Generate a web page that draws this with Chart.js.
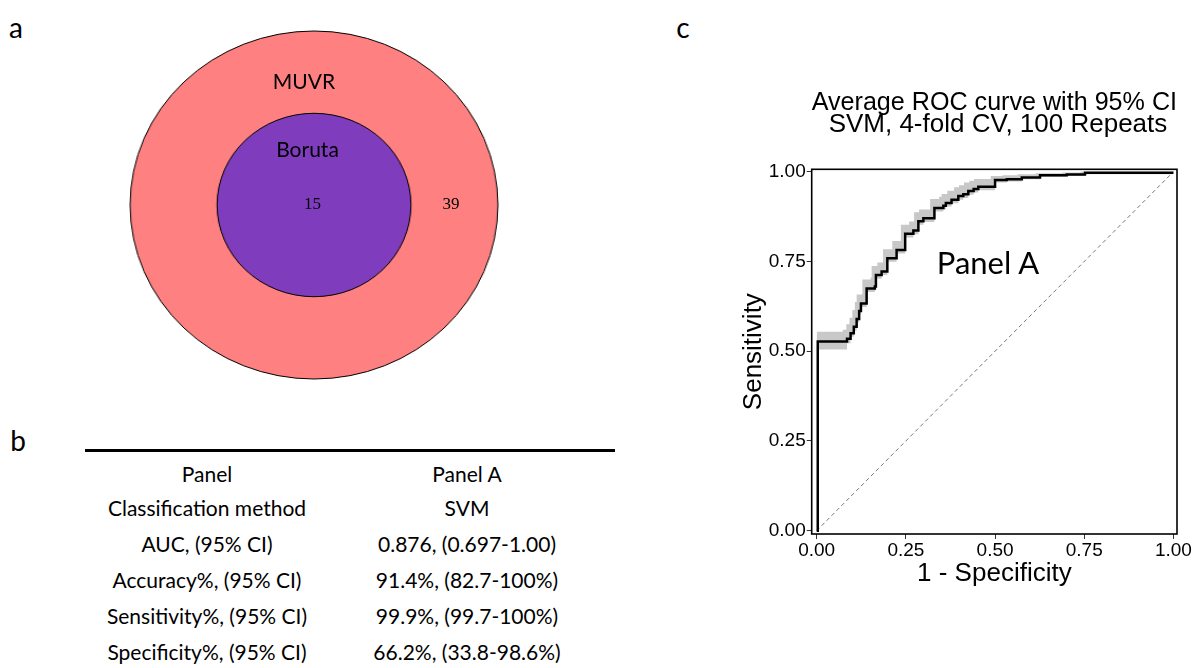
<!DOCTYPE html>
<html>
<head>
<meta charset="utf-8">
<script src="https://cdn.jsdelivr.net/npm/chart.js@4.4.1/dist/chart.umd.min.js"></script>
<style>
  html, body { margin: 0; padding: 0; background: #fff; }
  #page { position: relative; width: 1195px; height: 668px; overflow: hidden; font-family: Lato, "Open Sans", sans-serif; color: #000; }
  .t { position: absolute; white-space: nowrap; line-height: 1; transform: translate(-50%, -50%); }
  .serif { font-family: "Liberation Serif", serif; }
  #venn { position: absolute; left: 0; top: 0; width: 628px; height: 410px; transform: scaleX(1.057); transform-origin: 314px 205px; }
  #roc { position: absolute; left: 700px; top: 80px; width: 495px; height: 520px; }
  #rule { position: absolute; left: 85px; top: 449px; width: 530px; height: 3px; background: #000; }
</style>
</head>
<body>
<div id="page">
  <div class="t" style="left:16px; top:27px; font-size:28px">a</div>
  <div class="t" style="left:18px; top:440px; font-size:28px">b</div>
  <div class="t" style="left:683px; top:27px; font-size:28px">c</div>

  <div id="venn"><canvas id="vennCanvas"></canvas></div>
  <div id="vennLabels"></div>

  <div id="rule"></div>
  <div id="table"></div>

  <div id="roc"><canvas id="rocCanvas"></canvas></div>
  <div class="t" style="left:988px; top:262px; font-size:31px">Panel A</div>
</div>

<script>
// ---- panel a: Venn diagram (Boruta set nested in MUVR set)
const vennSets = ['Boruta', 'MUVR'];
const vennCounts = [15, 39];        // inside both, MUVR only

// ---- panel b: performance table
const tableHeader = ['Panel', 'Panel A'];
const tableMetrics = ['Classification method', 'AUC, (95% CI)', 'Accuracy%, (95% CI)',
                      'Sensitivity%, (95% CI)', 'Specificity%, (95% CI)'];
const tableValues = ['SVM', '0.876, (0.697-1.00)', '91.4%, (82.7-100%)',
                     '99.9%, (99.7-100%)', '66.2%, (33.8-98.6%)'];

// ---- panel c: average ROC curve with 95% CI band
const fpr = [0, 0.003, 0.085, 0.095, 0.104, 0.112, 0.119, 0.124, 0.140, 0.163, 0.166, 0.182,
             0.198, 0.224, 0.248, 0.271, 0.285, 0.299, 0.330, 0.355, 0.362, 0.378, 0.397,
             0.411, 0.425, 0.440, 0.453, 0.500, 0.533, 0.575, 0.626, 0.701, 0.752, 1.000];
const tpr = [0, 0.527, 0.535, 0.550, 0.568, 0.590, 0.612, 0.633, 0.675, 0.680, 0.712, 0.722,
             0.759, 0.782, 0.827, 0.836, 0.862, 0.870, 0.899, 0.905, 0.913, 0.922, 0.932,
             0.937, 0.946, 0.952, 0.958, 0.977, 0.979, 0.984, 0.990, 0.992, 0.997, 0.997];
// CI band: lower edge on the curve's steps, upper edge a little up and to the left
const ciLower = [0, 0.505, 0.522, 0.540, 0.558, 0.580, 0.602, 0.623, 0.665, 0.670, 0.702, 0.712,
                 0.749, 0.772, 0.817, 0.826, 0.852, 0.860, 0.889, 0.895, 0.903, 0.912, 0.922,
                 0.927, 0.936, 0.942, 0.948, 0.970, 0.973, 0.979, 0.985, 0.988, 0.993, 0.993];
const ciUpperX = [0, 0, 0.073, 0.083, 0.092, 0.100, 0.107, 0.112, 0.128, 0.151, 0.154, 0.170,
                  0.186, 0.212, 0.236, 0.259, 0.273, 0.287, 0.318, 0.343, 0.350, 0.366, 0.385,
                  0.399, 0.413, 0.428, 0.441, 0.488, 0.521, 0.563, 0.614, 0.689, 0.740, 1.000];
const ciUpper = [0, 0.554, 0.560, 0.575, 0.593, 0.615, 0.637, 0.658, 0.700, 0.705, 0.737, 0.747,
                 0.784, 0.807, 0.852, 0.861, 0.887, 0.895, 0.924, 0.930, 0.938, 0.947, 0.957,
                 0.962, 0.970, 0.975, 0.980, 0.988, 0.990, 0.993, 0.996, 0.998, 1.000, 1.000];
const chanceLine = [0, 1];
const xTicks = [0, 0.25, 0.5, 0.75, 1];
const yTicks = [0, 0.25, 0.5, 0.75, 1];
const rocTitle = ['Average ROC curve with 95% CI', ' SVM, 4-fold CV, 100 Repeats'];

Chart.defaults.font.family = "'Liberation Sans', Arial, sans-serif";
Chart.defaults.color = '#000';

// labels for the Venn and the table
function addText(parent, txt, x, y, size, cls) {
  const d = document.createElement('div');
  d.className = 't' + (cls ? ' ' + cls : '');
  d.style.left = x + 'px';
  d.style.top = y + 'px';
  d.style.fontSize = size + 'px';
  d.textContent = txt;
  parent.appendChild(d);
}
const vl = document.getElementById('vennLabels');
addText(vl, vennSets[1], 304, 80, 21);
addText(vl, vennSets[0], 307.5, 148, 21);
addText(vl, String(vennCounts[0]), 312.5, 203, 17, 'serif');
addText(vl, String(vennCounts[1]), 451, 203, 17, 'serif');

const tb = document.getElementById('table');
const rowY = [473, 507, 543, 579, 615, 651];
addText(tb, tableHeader[0], 207, rowY[0], 21);
addText(tb, tableHeader[1], 467, rowY[0], 21);
tableMetrics.forEach((m, i) => {
  addText(tb, m, 207, rowY[i + 1], 21);
  addText(tb, tableValues[i], 467, rowY[i + 1], 21);
});

// Venn: area-proportional circles as bubbles
const outerR = 174;
const total = vennCounts[0] + vennCounts[1];
new Chart(document.getElementById('vennCanvas'), {
  type: 'bubble',
  data: {
    datasets: [
      { label: vennSets[0], data: [{ x: 0, y: 0, r: outerR * Math.sqrt(vennCounts[0] / total) }],
        backgroundColor: '#7F3DBE', borderColor: '#000', borderWidth: 1, clip: false },
      { label: vennSets[1], data: [{ x: 0, y: 0, r: outerR }],
        backgroundColor: '#FF8080', borderColor: '#000', borderWidth: 1, clip: false }
    ]
  },
  options: {
    animation: false, events: [], responsive: true, maintainAspectRatio: false,
    layout: { padding: 0 },
    scales: { x: { display: false, min: -1, max: 1 }, y: { display: false, min: -1, max: 1 } },
    plugins: { legend: { display: false }, tooltip: { enabled: false } }
  }
});

// ROC panel
const pts = (xs, ys) => xs.map((x, i) => ({ x: x, y: ys[i] }));

const framePlugin = {
  id: 'frame',
  afterDatasetsDraw(chart) {
    const { ctx, chartArea: a } = chart;
    ctx.save();
    ctx.strokeStyle = '#000';
    ctx.lineWidth = 1.6;
    ctx.strokeRect(a.left, a.top, a.right - a.left, a.bottom - a.top);
    ctx.restore();
  }
};

new Chart(document.getElementById('rocCanvas'), {
  type: 'scatter',
  data: {
    datasets: [
      { label: 'ROC', data: pts(fpr, tpr), showLine: true, stepped: 'before', borderColor: '#000',
        borderWidth: 2.5, borderJoinStyle: 'miter', pointRadius: 0, fill: false, order: 0 },
      { label: 'chance', data: pts(chanceLine, chanceLine), showLine: true, borderColor: '#777',
        borderWidth: 1, borderDash: [4, 3], pointRadius: 0, fill: false, order: 1 },
      { label: 'lower', data: pts(fpr, ciLower), showLine: true, stepped: 'before',
        borderColor: 'rgba(0,0,0,0)', borderWidth: 0, pointRadius: 0, fill: false, order: 3 },
      { label: 'upper', data: pts(ciUpperX, ciUpper), showLine: true, stepped: 'before',
        borderColor: 'rgba(0,0,0,0)', borderWidth: 0, backgroundColor: '#c8c8c8',
        pointRadius: 0, fill: '-1', order: 2 }
    ]
  },
  options: {
    animation: false, events: [], responsive: true, maintainAspectRatio: false,
    layout: { padding: { left: 0, right: 18, top: 0, bottom: 0 } },
    plugins: {
      legend: { display: false },
      tooltip: { enabled: false },
      title: {
        display: true, fullSize: false, text: rocTitle, color: '#000',
        font: { size: 26, weight: 'normal', lineHeight: '22px' },
        padding: { top: 12, bottom: 33.3 }
      }
    },
    scales: {
      x: {
        type: 'linear', min: -0.014, max: 1.01,
        afterBuildTicks: s => { s.ticks = xTicks.map(v => ({ value: v })); },
        afterFit: s => { s.height = 66; },
        ticks: { callback: v => v.toFixed(2), color: '#000', font: { size: 19 }, padding: 0,
                 maxRotation: 0, autoSkip: false },
        grid: { drawOnChartArea: false, tickLength: 5, color: '#333' },
        border: { display: false },
        title: { display: true, text: '1 - Specificity', color: '#000', font: { size: 26 },
                 padding: { top: 0, bottom: 11 } }
      },
      y: {
        type: 'linear', min: -0.0092, max: 1.0067,
        afterBuildTicks: s => { s.ticks = yTicks.map(v => ({ value: v })); },
        afterFit: s => { s.width = 111.7; },
        ticks: { callback: v => v.toFixed(2), color: '#000', font: { size: 19 }, padding: 1,
                 autoSkip: false },
        grid: { drawOnChartArea: false, tickLength: 5, color: '#333' },
        border: { display: false },
        title: { display: true, text: 'Sensitivity', color: '#000', font: { size: 26 },
                 padding: { top: 38, bottom: 0 } }
      }
    }
  },
  plugins: [framePlugin]
});
</script>
</body>
</html>
